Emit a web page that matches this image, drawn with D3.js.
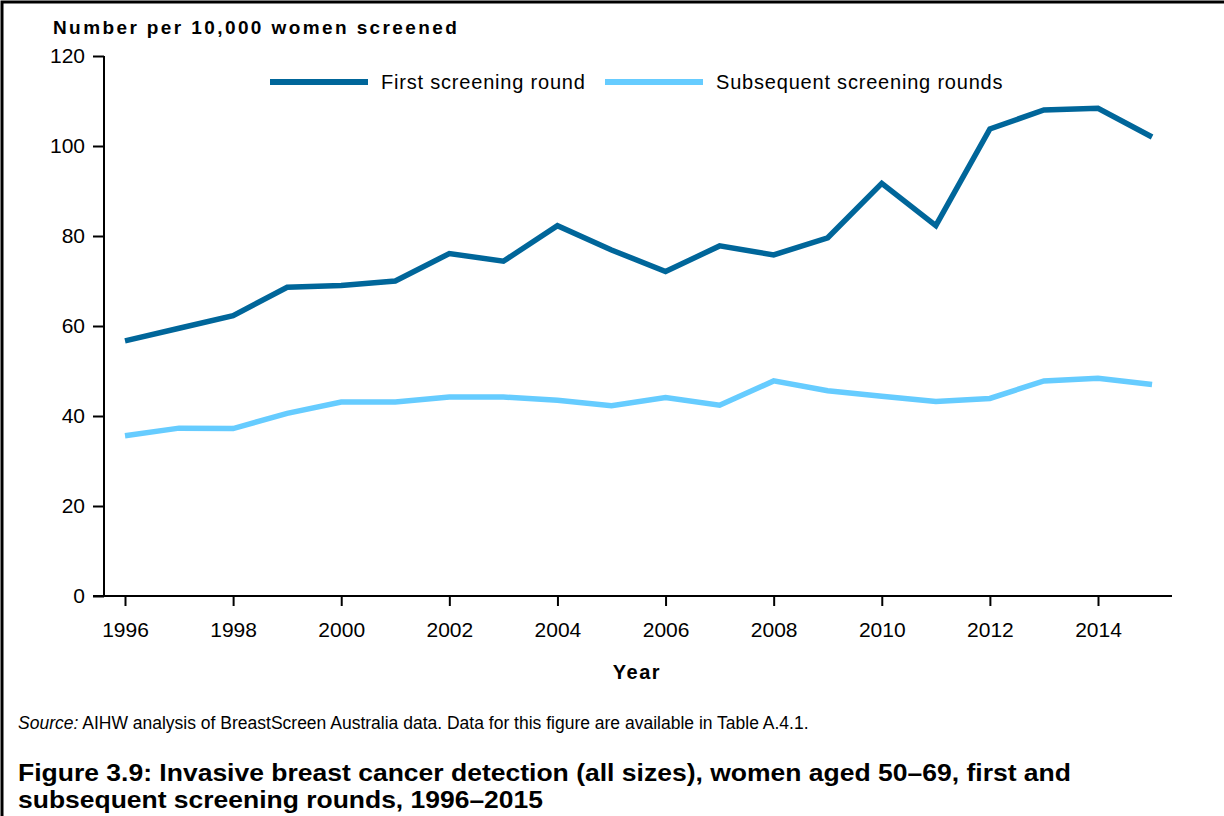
<!DOCTYPE html>
<html>
<head>
<meta charset="utf-8">
<script src="https://cdn.jsdelivr.net/npm/d3@7"></script>
<style>
  body { margin: 0; background: #fff; }
  text { font-family: Arial, "Liberation Sans", sans-serif; fill: #000; }
</style>
</head>
<body>
<div id="chart"></div>
<script>
// values
var years = [1996, 1997, 1998, 1999, 2000, 2001, 2002, 2003, 2004, 2005,
             2006, 2007, 2008, 2009, 2010, 2011, 2012, 2013, 2014, 2015];
var firstRound = [56.7, 59.5, 62.3, 68.6, 69.0, 70.0, 76.1, 74.4, 82.3, 76.9,
                  72.1, 77.8, 75.8, 79.6, 91.7, 82.3, 103.8, 108.0, 108.4, 102.0];
var subsequentRounds = [35.6, 37.3, 37.2, 40.6, 43.1, 43.1, 44.2, 44.2, 43.5, 42.3,
                        44.1, 42.4, 47.8, 45.6, 44.4, 43.2, 43.9, 47.8, 48.4, 47.0];
var seriesNames = ["First screening round", "Subsequent screening rounds"];
var seriesColors = ["#00669a", "#66ccff"];
var yTicks = [0, 20, 40, 60, 80, 100, 120];
var xTicks = [1996, 1998, 2000, 2002, 2004, 2006, 2008, 2010, 2012, 2014];

var width = 1224, height = 816;

var svg = d3.select("#chart").append("svg")
  .attr("width", width)
  .attr("height", height);

// frame (top and left edges only)
svg.append("path")
  .attr("d", "M2,816 L2,2 L1224,2")
  .attr("fill", "none")
  .attr("stroke", "#000")
  .attr("stroke-width", 3);

var x = d3.scaleLinear().domain([1996, 2014]).range([125, 1098]);
var y = d3.scaleLinear().domain([0, 120]).range([596, 56]);

// y axis
var yAxis = svg.append("g")
  .attr("transform", "translate(104,0)")
  .call(d3.axisLeft(y).tickValues(yTicks).tickSize(11).tickPadding(8));
yAxis.select(".domain").attr("d", "M0," + y(120) + "V" + y(0));

// x axis
var xAxis = svg.append("g")
  .attr("transform", "translate(0,596)")
  .call(d3.axisBottom(x).tickValues(xTicks).tickFormat(d3.format("d")).tickSize(10).tickPadding(16));
xAxis.select(".domain").attr("d", "M93,0H1172");

svg.selectAll(".tick text")
  .style("font-size", "21px")
  .style("font-family", "Arial, 'Liberation Sans', sans-serif");
svg.selectAll(".domain, .tick line").attr("stroke", "#000").attr("stroke-width", 2);

// axis titles
svg.append("text")
  .attr("x", 53).attr("y", 34)
  .style("font-size", "19px").style("font-weight", "bold")
  .style("letter-spacing", "2.4px")
  .text("Number per 10,000 women screened");

svg.append("text")
  .attr("x", 637).attr("y", 679)
  .attr("text-anchor", "middle")
  .style("font-size", "20px").style("font-weight", "bold")
  .style("letter-spacing", "1.5px")
  .text("Year");

// lines
var line = d3.line()
  .x(function (d, i) { return x(years[i]); })
  .y(function (d) { return y(d); });

[firstRound, subsequentRounds].forEach(function (vals, k) {
  svg.append("path")
    .datum(vals)
    .attr("d", line)
    .attr("fill", "none")
    .attr("stroke", seriesColors[k])
    .attr("stroke-width", 5.5)
    .attr("stroke-linejoin", "miter");
});

// legend
var legendX = [270, 605];
seriesNames.forEach(function (name, k) {
  svg.append("line")
    .attr("x1", legendX[k]).attr("x2", legendX[k] + 98)
    .attr("y1", 82).attr("y2", 82)
    .attr("stroke", seriesColors[k])
    .attr("stroke-width", 6);
  svg.append("text")
    .attr("x", legendX[k] + 111).attr("y", 89)
    .style("font-size", "20px")
    .style("letter-spacing", "0.8px")
    .text(name);
});

// source note
var src = svg.append("text")
  .attr("x", 18).attr("y", 729)
  .style("font-size", "17.5px");
src.append("tspan").style("font-style", "italic").text("Source:");
src.append("tspan").text(" AIHW analysis of BreastScreen Australia data. Data for this figure are available in Table A.4.1.");

// figure caption (widths stretched to match the original's wider setting)
var caption = [
  "Figure 3.9: Invasive breast cancer detection (all sizes), women aged 50\u201369, first and",
  "subsequent screening rounds, 1996\u20132015"
];
var captionWidths = [1053, 525];
caption.forEach(function (t, i) {
  svg.append("text")
    .attr("x", 18).attr("y", 781 + i * 27)
    .attr("textLength", captionWidths[i])
    .attr("lengthAdjust", "spacingAndGlyphs")
    .style("font-size", "24.5px").style("font-weight", "bold")
    .text(t);
});
</script>
</body>
</html>
